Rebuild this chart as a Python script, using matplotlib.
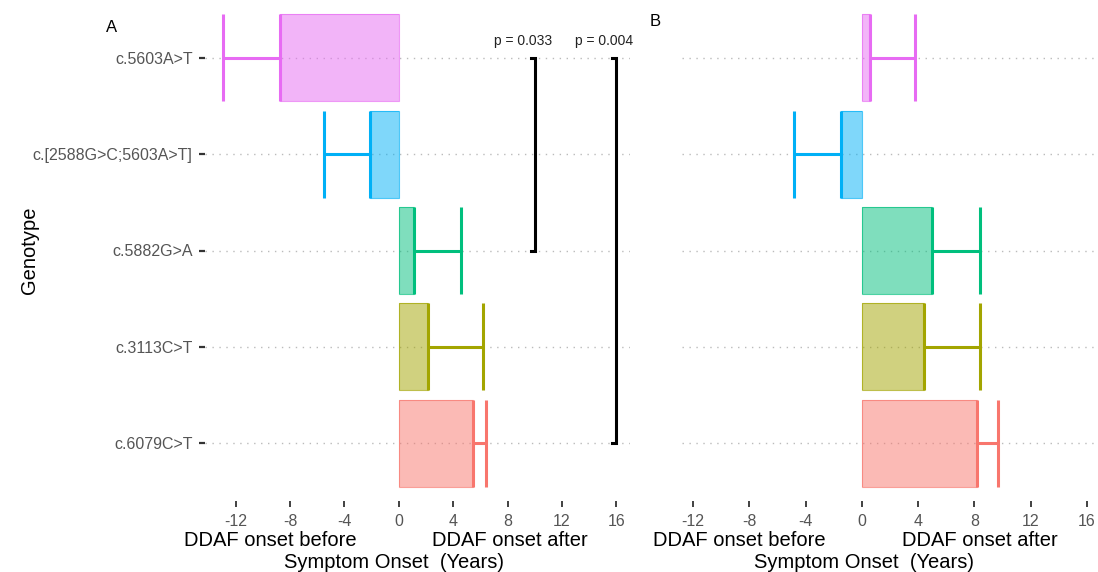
import numpy as np
import matplotlib
matplotlib.use('Agg')
import matplotlib.pyplot as plt

plt.rcParams['font.family'] = ['Liberation Sans', 'DejaVu Sans']

# genotypes, top to bottom
genotypes = ['c.5603A>T', 'c.[2588G>C;5603A>T]', 'c.5882G>A', 'c.3113C>T', 'c.6079C>T']
colors = ['#E76BF3', '#00B0F6', '#00BF7D', '#A3A500', '#F8766D']

# panel A: mean onset difference and upper end of error bar (years)
mean_a = [-8.75, -2.1, 1.1, 2.15, 5.45]
err_a = [-12.9, -5.5, 4.55, 6.2, 6.4]

# panel B
mean_b = [0.55, -1.5, 5.0, 4.4, 8.2]
err_b = [3.8, -4.8, 8.4, 8.4, 9.7]

# significance brackets on panel A: (x, from genotype, to genotype, label)
brackets = [(10, 'c.5603A>T', 'c.5882G>A', 'p = 0.033'),
            (16, 'c.5603A>T', 'c.6079C>T', 'p = 0.004')]

xticks = [-12, -8, -4, 0, 4, 8, 12, 16]

fig = plt.figure(figsize=(10.98, 5.72), dpi=100)
ax_a = fig.add_axes([205 / 1098, 1 - 501 / 572, 425 / 1098, 501 / 572])
ax_b = fig.add_axes([682 / 1098, 1 - 501 / 572, 416 / 1098, 501 / 572])

ypos = np.arange(len(genotypes))


def draw_panel(ax, means, errs, xlim):
    for y in ypos:
        ax.axhline(y, color='#BBBBBB', lw=1.0, ls=(0, (1, 4)), zorder=0)
    for y, m, e, c in zip(ypos, means, errs, colors):
        ax.barh(y, m, left=0, height=0.9, color=c, alpha=0.5, edgecolor='none', zorder=2)
        ax.barh(y, m, left=0, height=0.9, facecolor='none', edgecolor=c, lw=0.8, alpha=0.7, zorder=3)
        ax.vlines([m, e], y - 0.45, y + 0.45, color=c, lw=2.2, zorder=4)
        ax.hlines(y, m, e, color=c, lw=2.2, zorder=4)
    ax.set_xlim(*xlim)
    ax.set_ylim(len(genotypes) - 0.4, -0.6)
    ax.set_xticks(xticks)
    ax.set_xticklabels([str(t) for t in xticks], color='#555555', fontsize=11.5)
    ax.tick_params(axis='x', length=4, width=1.3, color='#333333', pad=5)
    for s in ax.spines.values():
        s.set_visible(False)


draw_panel(ax_a, mean_a, err_a, (-14.26, 17.0))
draw_panel(ax_b, mean_b, err_b, (-12.8, 16.8))

ax_a.set_yticks(ypos)
ax_a.set_yticklabels(genotypes, color='#555555', fontsize=11.5)
ax_a.tick_params(axis='y', length=4, width=1.6, color='#333333', pad=5)
ax_b.set_yticks([])

# brackets
for x, g1, g2, lab in brackets:
    y1, y2 = genotypes.index(g1), genotypes.index(g2)
    ax_a.plot([x - 0.3, x, x, x - 0.3], [y1, y1, y2, y2], color='black', lw=2.2,
              solid_joinstyle='miter', zorder=5)
    ax_a.text(x - 0.9, y1 - 0.1, lab, ha='center', va='bottom', fontsize=10, color='#222222')

# panel letters
fig.text(112 / 1098, 1 - 27 / 572, 'A', fontsize=12, ha='center', va='center')
fig.text(655 / 1098, 1 - 21 / 572, 'B', fontsize=12, ha='center', va='center')

fig.text(30 / 1098, 1 - 250 / 572, 'Genotype', rotation=90, fontsize=14.5, ha='center', va='center')

# x axis titles
for cb, ca, cs in [(270, 510, 394), (739, 980, 864)]:
    fig.text(cb / 1098, 1 - 540 / 572, 'DDAF onset before', fontsize=14.5, ha='center', va='center')
    fig.text(ca / 1098, 1 - 540 / 572, 'DDAF onset after', fontsize=14.5, ha='center', va='center')
    fig.text(cs / 1098, 1 - 563 / 572, 'Symptom Onset  (Years)', fontsize=14.5, ha='center', va='center')

fig.savefig('out.png', dpi=100)
